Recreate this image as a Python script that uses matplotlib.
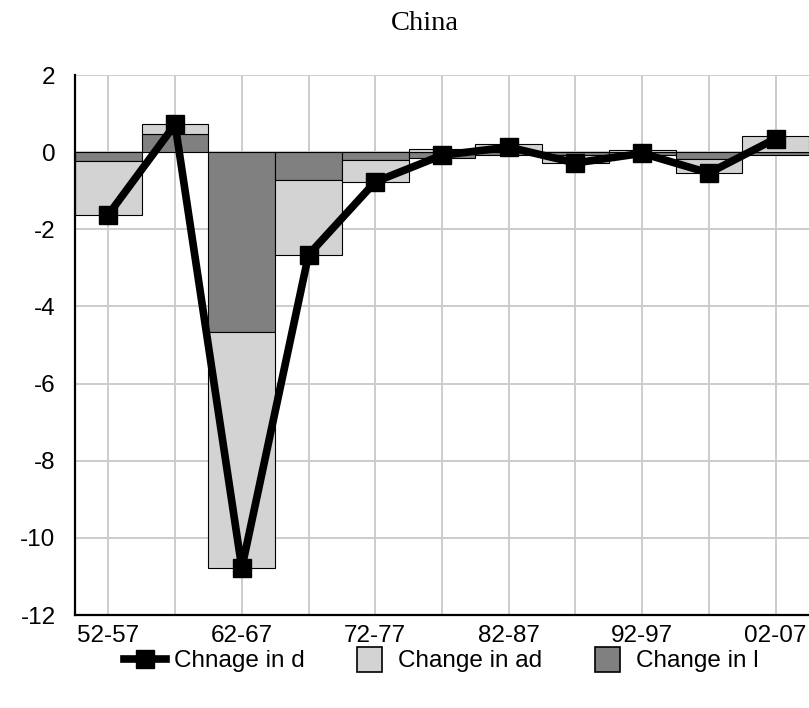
import numpy as np
import matplotlib.pyplot as plt
from matplotlib.lines import Line2D

# five-year periods and the decomposition of the change in d
periods = ['52-57', '57-62', '62-67', '67-72', '72-77', '77-82',
           '82-87', '87-92', '92-97', '97-02', '02-07']
change_l = [-0.23, 0.46, -4.65, -0.73, -0.21, -0.15, -0.07, -0.07, -0.08, -0.19, -0.08]
change_ad = [-1.39, 0.26, -6.14, -1.93, -0.56, 0.07, 0.22, -0.21, 0.05, -0.35, 0.43]
change_d = [-1.62, 0.72, -10.78, -2.66, -0.77, -0.08, 0.13, -0.28, -0.03, -0.54, 0.35]

plt.rcParams['font.family'] = ['Liberation Sans', 'DejaVu Sans']
plt.rcParams['axes.unicode_minus'] = False

light = '#d3d3d3'
dark = '#808080'

fig = plt.figure(figsize=(8.09, 7.08), dpi=100)
ax = fig.add_axes([75 / 809, 1 - 615 / 708, 1 - 75 / 809, 540 / 708])

x = np.arange(len(periods))
l = np.array(change_l)
ad = np.array(change_ad)
# stack ad on top of l only where both go the same way
ad_bottom = np.where(np.sign(ad) == np.sign(l), l, 0)

ax.bar(x, l, width=1.0, color=dark, edgecolor='black', linewidth=0.8, zorder=2)
ax.bar(x, ad, bottom=ad_bottom, width=1.0, color=light, edgecolor='black',
       linewidth=0.8, zorder=2)
ax.plot(x, change_d, color='black', linewidth=5.5, marker='s', markersize=13,
        zorder=3)

ax.set_xlim(-0.5, len(periods) - 0.5)
ax.set_ylim(-12, 2)
ax.set_yticks(np.arange(-12, 3, 2))
ax.set_xticks(x)
ax.set_xticklabels([p if i % 2 == 0 else '' for i, p in enumerate(periods)])
ax.tick_params(axis='both', length=0, labelsize=17.5)
ax.tick_params(axis='y', pad=14)
ax.tick_params(axis='x', pad=7)

ax.grid(True, color='#cccccc', linewidth=1.4, zorder=0)
ax.set_axisbelow(True)
ax.spines['top'].set_visible(False)
ax.spines['right'].set_visible(False)
ax.spines['left'].set_linewidth(1.6)
ax.spines['bottom'].set_linewidth(1.6)

fig.text(425 / 809, 1 - 23 / 708, 'China', ha='center', va='center',
         fontsize=20.5, family='Liberation Serif')

handles = [
    Line2D([], [], color='black', linewidth=5.5, marker='s', markersize=13),
    Line2D([], [], linestyle='none', marker='s', markersize=18,
           markerfacecolor=light, markeredgecolor='black', markeredgewidth=1.2),
    Line2D([], [], linestyle='none', marker='s', markersize=18,
           markerfacecolor=dark, markeredgecolor='black', markeredgewidth=1.2),
]
labels = ['Chnage in d', 'Change in ad', 'Change in l']
fig.legend(handles, labels, loc='center', bbox_to_anchor=(441 / 809, 1 - 661 / 708),
           ncol=3, frameon=False, fontsize=17.5, handlelength=1.75,
           handletextpad=0.3, columnspacing=1.8)

fig.savefig('out.png', dpi=100)
